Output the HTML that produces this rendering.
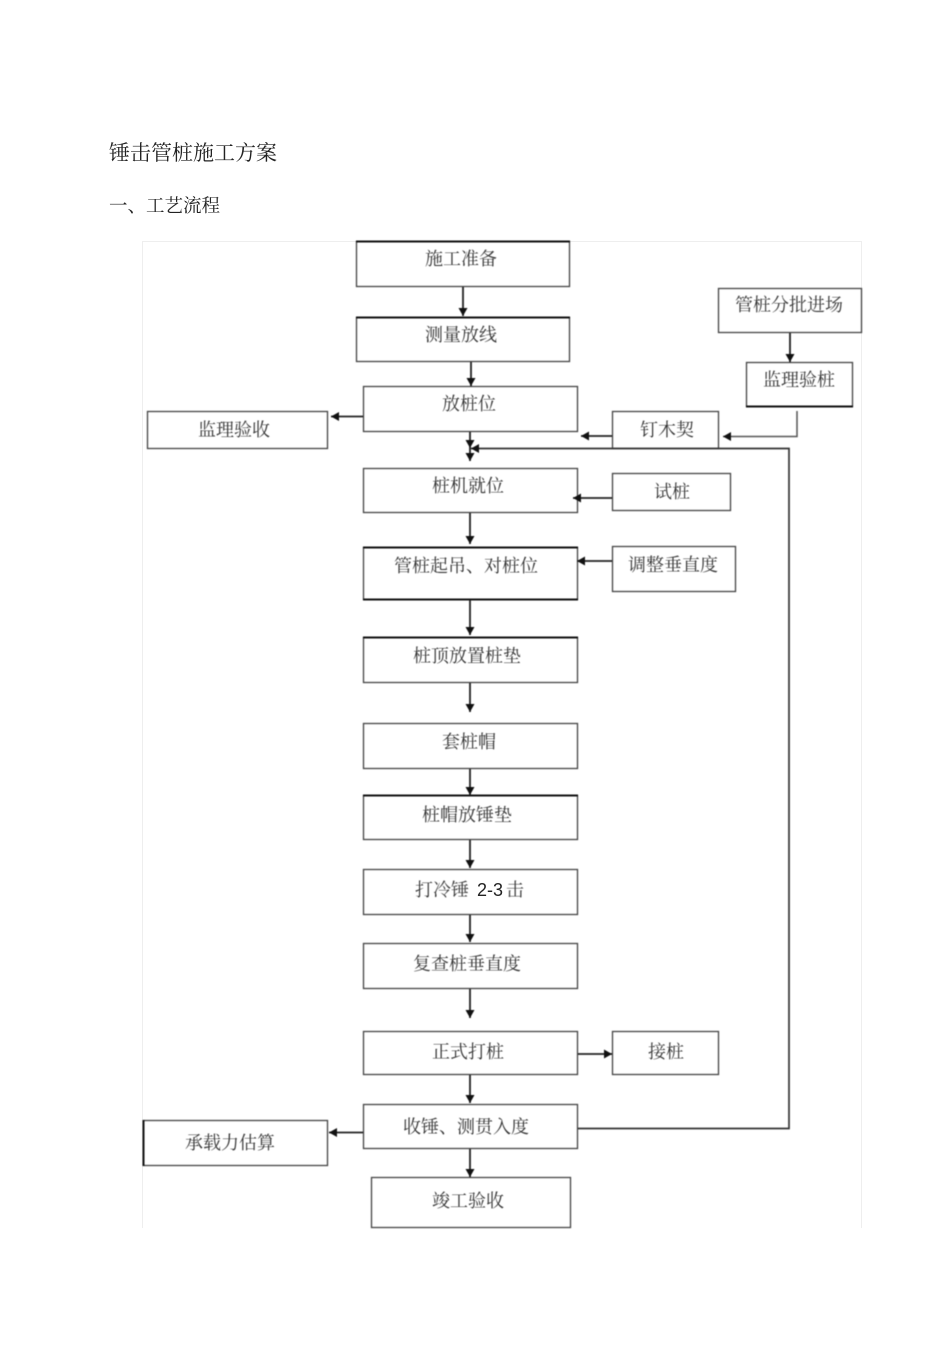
<!DOCTYPE html>
<html><head><meta charset="utf-8">
<style>
html,body{margin:0;padding:0;background:#fff}
svg{display:block}
text{font-family:"Liberation Serif","Noto Serif CJK SC",serif;fill:#222}
.soft{filter:blur(0.45px)}
.soft text{fill:#333}
</style></head>
<body>
<svg width="950" height="1345" viewBox="0 0 950 1345" xmlns="http://www.w3.org/2000/svg">
<defs>
<marker id="a" markerWidth="10" markerHeight="10" refX="8" refY="4.500" orient="auto" markerUnits="userSpaceOnUse"><path d="M0,0 L8,4.500 L0,9 Z" fill="#111"/></marker>
</defs>
<text x="109" y="160" font-size="21">锤击管桩施工方案</text>
<text x="109" y="212" font-size="18.5">一、工艺流程</text>
<path d="M142.500 1228V241.500H861.500V1228" fill="none" stroke="#eee"/>
<g class="soft">
<g fill="#fff" stroke="#444" stroke-width="1.300">
<rect x="356.500" y="241.500" width="213" height="45"/>
<rect x="356.500" y="317.500" width="213" height="44"/>
<rect x="363.500" y="386.500" width="214" height="45"/>
<rect x="147.500" y="411.500" width="180" height="37"/>
<rect x="718.500" y="288.500" width="143" height="44"/>
<rect x="746.500" y="362.500" width="106" height="44"/>
<rect x="612.500" y="411.500" width="106" height="37"/>
<rect x="363.500" y="468.500" width="214" height="44"/>
<rect x="612.500" y="473.500" width="118" height="37"/>
<rect x="363.500" y="547.500" width="214" height="52"/>
<rect x="612.500" y="546.500" width="123" height="45"/>
<rect x="363.500" y="637.500" width="214" height="45"/>
<rect x="363.500" y="723.500" width="214" height="45"/>
<rect x="363.500" y="795.500" width="214" height="44"/>
<rect x="363.500" y="869.500" width="214" height="45"/>
<rect x="363.500" y="943.500" width="214" height="45"/>
<rect x="363.500" y="1031.500" width="214" height="43"/>
<rect x="612.500" y="1031.500" width="106" height="43"/>
<rect x="363.500" y="1104.500" width="214" height="44"/>
<rect x="143.500" y="1120.500" width="184" height="45"/>
<rect x="371.500" y="1177.500" width="199" height="50"/>
</g>
<g fill="none" stroke="#111" stroke-width="2">
<path d="M356 241.500H570"/>
<path d="M356 317.500H570"/>
<path d="M363 547.500H578M363 599.500H578"/>
<path d="M363 637.500H578"/>
<path d="M363 795.500H578"/>
<path d="M746 406.500H853"/>
<path d="M143.500 1120V1166"/>
</g>
<g fill="none" stroke="#222" stroke-width="1.800" marker-end="url(#a)">
<path d="M463 287V316"/>
<path d="M471 362V386"/>
<path d="M470 432V448"/>
<path d="M470 448V461"/>
<path d="M363 416.500H331"/>
<path d="M790 333V362"/>
<path d="M612 436H581"/>
<path d="M612 498H573"/>
<path d="M470 513V544"/>
<path d="M612 561H577"/>
<path d="M470 600V635"/>
<path d="M470 683V712"/>
<path d="M470 769V795"/>
<path d="M470 840V868"/>
<path d="M470 915V942"/>
<path d="M470 989V1018"/>
<path d="M470 1075V1103"/>
<path d="M578 1054H612"/>
<path d="M363 1132.500H329"/>
<path d="M470 1149V1177"/>
</g>
<path d="M797 411V436.500H723" fill="none" stroke="#555" stroke-width="1.500" marker-end="url(#a)"/>
<path d="M578 1128.500H789V448.500H471" fill="none" stroke="#333" stroke-width="1.700" marker-end="url(#a)"/>
<g font-size="18" text-anchor="middle">
<text x="461" y="265">施工准备</text>
<text x="461" y="341">测量放线</text>
<text x="469" y="410">放桩位</text>
<text x="234" y="436">监理验收</text>
<text x="789" y="311">管桩分批进场</text>
<text x="799" y="386">监理验桩</text>
<text x="667" y="436">钉木契</text>
<text x="468" y="492">桩机就位</text>
<text x="672" y="498">试桩</text>
<text x="466" y="572">管桩起吊、对桩位</text>
<text x="673" y="571">调整垂直度</text>
<text x="467" y="662">桩顶放置桩垫</text>
<text x="469" y="748">套桩帽</text>
<text x="467" y="821">桩帽放锤垫</text>
<text x="442" y="896">打冷锤</text>
<text x="515" y="896">击</text>
<text x="467" y="970">复查桩垂直度</text>
<text x="468" y="1058">正式打桩</text>
<text x="666" y="1058">接桩</text>
<text x="466" y="1133">收锤、测贯入度</text>
<text x="230" y="1149">承载力估算</text>
<text x="468" y="1207">竣工验收</text>
</g>
</g>
<text x="477" y="896" font-size="18" font-family="Liberation Sans" style="font-family:'Liberation Sans',sans-serif">2-3</text>
</svg>
</body></html>
